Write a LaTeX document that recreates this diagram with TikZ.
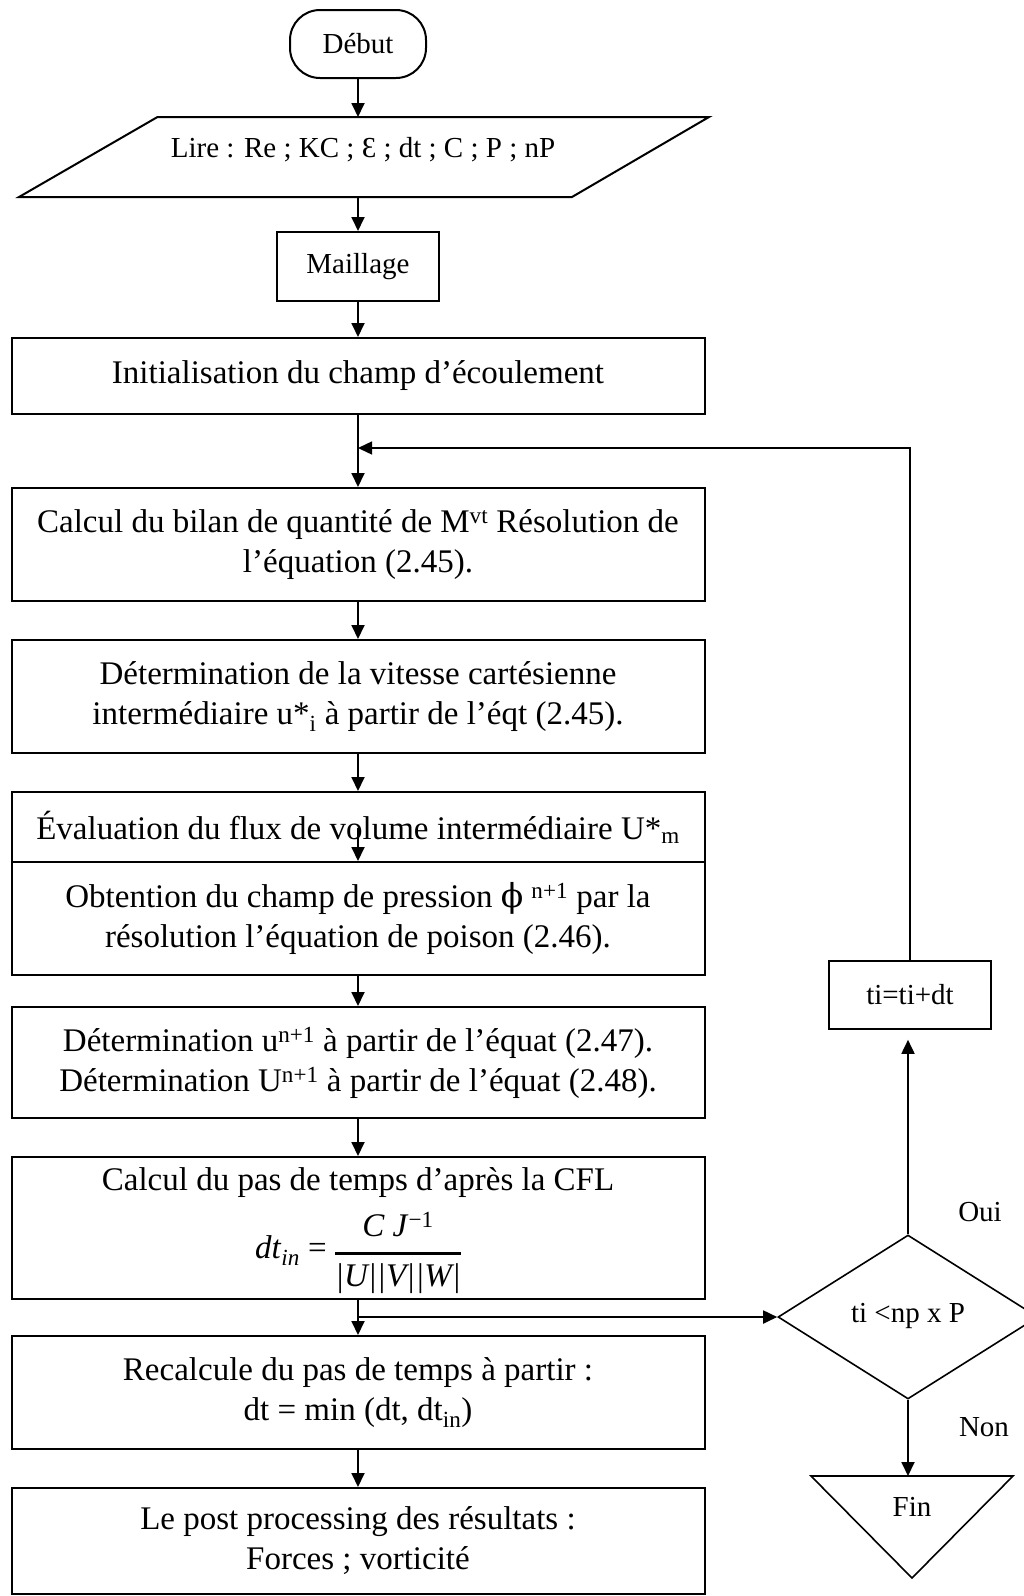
\documentclass[tikz,border=0pt]{standalone}
\usepackage{fontspec}
\setmainfont{Liberation Serif}
\newfontfamily\dvs{DejaVu Serif}
\usetikzlibrary{arrows.meta,shapes.geometric}
\tikzset{
  mainbox/.style={draw, line width=2pt, minimum width=693pt, align=center, inner sep=0pt, font=\fontsize{33}{40}\selectfont},
  maintext/.style={align=center, inner sep=0pt, font=\fontsize{33}{40}\selectfont},
  topbox/.style={draw, line width=2pt, align=center, inner sep=0pt, font=\fontsize{29}{35}\selectfont},
  arr/.style={line width=1.8pt, -{Triangle[length=14pt,width=13pt]}},
  looparr/.style={line width=1.4pt, -{Triangle[length=14pt,width=13pt]}},
  smalltext/.style={font=\fontsize{29}{35}\selectfont, inner sep=0pt},
  shapeline/.style={line width=1.6pt},
}
\begin{document}
\begin{tikzpicture}[x=1pt,y=-1pt]
\useasboundingbox (0,0) rectangle (1024,1596);

% top part
\node[topbox, rounded corners=30pt, minimum width=136pt, minimum height=68pt] (debut) at (358,44) {Début};
\draw[line width=2pt] (157.5,117) -- (709,117) -- (572,197) -- (19,197) -- cycle;
\node[smalltext] (lire) at (363,150) {Lire : Re ; KC ; Ɛ ; dt ; C ; P ; nP};
\coordinate (paraT) at (358,117);
\coordinate (paraB) at (358,197);
\node[topbox, minimum width=161.5pt, minimum height=69pt] (maill) at (358,266.5) {Maillage};

% main column
\node[mainbox, minimum height=76pt] (init) at (358,376) {Initialisation du champ d’écoulement};
\node[mainbox, minimum height=113pt] (calc) at (358,544.5) {Calcul du bilan de quantité de M\textsuperscript{vt} Résolution de\\ l’équation (2.45).};
\node[mainbox, minimum height=113pt] (detv) at (358,696.5) {Détermination de la vitesse cartésienne\\ intermédiaire u*\textsubscript{i} à partir de l’éqt (2.45).};
\node[mainbox, minimum height=70pt] (eval) at (358,827) {Évaluation du flux de volume intermédiaire U*\textsubscript{m}};
\node[mainbox, minimum height=113pt] (obt) at (358,918.5) {Obtention du champ de pression {\dvs ϕ} \textsuperscript{n+1} par la\\ résolution l’équation de poison (2.46).};
\node[mainbox, minimum height=111pt] (detu) at (358,1062.5) {Détermination u\textsuperscript{n+1} à partir de l’équat (2.47).\\ Détermination U\textsuperscript{n+1} à partir de l’équat (2.48).};
\node[mainbox, minimum height=142pt] (cfl) at (358,1228) {};
\node[maintext] (cfltext) at (358,1234) {Calcul du pas de temps d’après la CFL\\[6pt]
  \textit{dt}\textsubscript{\textit{in}} = {\setlength{\arrayrulewidth}{2.5pt}\renewcommand{\arraystretch}{1.15}\begin{tabular}[c]{@{}c@{}}\textit{C J}\textsuperscript{−1}\\[2pt]\hline \textit{|U||V||W|}\end{tabular}}};
\node[mainbox, minimum height=113pt] (recalc) at (358,1392.5) {Recalcule du pas de temps à partir :\\ dt = min (dt, dt\textsubscript{in})};
\node[mainbox, minimum height=106pt] (post) at (358,1541) {Le post processing des résultats :\\ Forces ; vorticité};

% right column
\node[draw, shapeline, minimum width=162pt, minimum height=68pt, smalltext] (ti) at (910,995) {ti=ti+dt};
\node[draw, diamond, shapeline, minimum width=260pt, minimum height=164pt, inner sep=0pt, font=\fontsize{29}{35}\selectfont] (dec) at (908,1317) {\raisebox{9pt}{ti <np x P}};
\draw[shapeline] (811,1476) -- (1013,1476) -- (912,1578) -- cycle;
\node[smalltext] (fin) at (912,1507) {Fin};
\coordinate (finT) at (908,1476);
\node[smalltext] (oui) at (980,1212) {Oui};
\node[smalltext] (non) at (984,1427) {Non};

% connectors
\draw[arr] (debut) -- (paraT);
\draw[arr] (paraB) -- (maill);
\draw[arr] (maill) -- (init);
\draw[arr] (init) -- (calc);
\draw[arr] (calc) -- (detv);
\draw[arr] (detv) -- (eval);
\coordinate (evs) at (358,828);
\draw[arr] (evs) -- (obt.north);
\draw[arr] (obt) -- (detu);
\draw[arr] (detu) -- (cfl);
\draw[arr] (cfl) -- (recalc);
\draw[arr] (recalc) -- (post);
\coordinate (br) at (358,1317);
\draw[arr] (br) -- (dec.west);
\draw[arr, shorten >=10pt] (dec.north) -- (dec.north |- ti.south);
\draw[arr] (dec.south) -- (finT);
\coordinate (loopJ) at (358,448);
\draw[looparr] (ti.north) |- (loopJ);
\end{tikzpicture}
\end{document}
